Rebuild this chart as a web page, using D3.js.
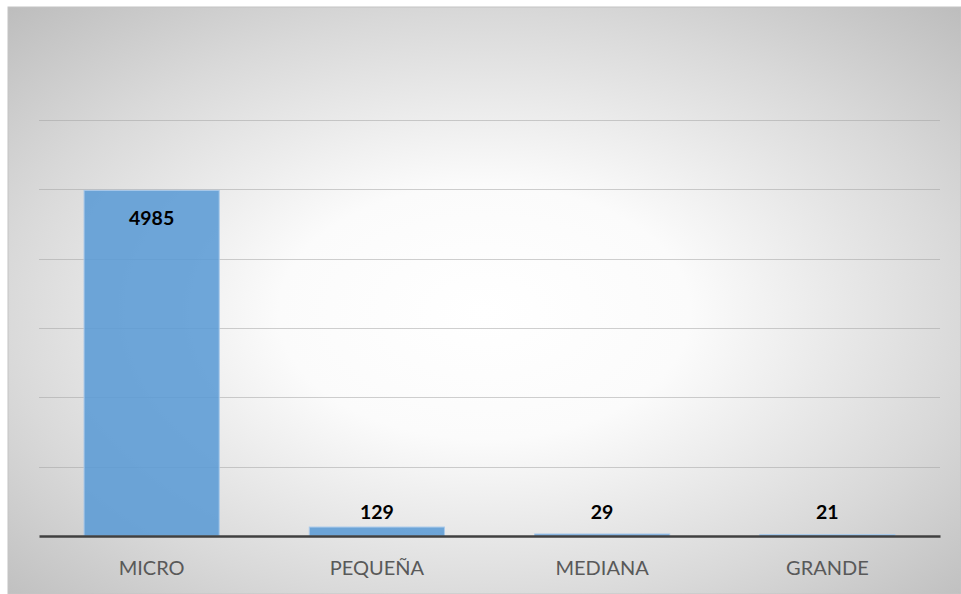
<!DOCTYPE html>
<html>
<head>
<meta charset="utf-8">
<script src="https://cdn.jsdelivr.net/npm/d3@7"></script>
<style>
  body { margin: 0; background: #ffffff; }
  svg { display: block; }
</style>
</head>
<body>
<div id="chart"></div>
<script>
// Data
const categories = ["MICRO", "PEQUEÑA", "MEDIANA", "GRANDE"];
const values = [4985, 129, 29, 21];
const gridTicks = [0, 1000, 2000, 3000, 4000, 5000, 6000];

const width = 961, height = 594;
const margin = { top: 120, right: 21, bottom: 58, left: 39 };

const svg = d3.select("#chart").append("svg")
  .attr("width", width)
  .attr("height", height);

// Radial background like the Excel chart area
const defs = svg.append("defs");
const grad = defs.append("radialGradient")
  .attr("id", "bg")
  .attr("cx", "50%").attr("cy", "52%").attr("r", "72%");
grad.append("stop").attr("offset", "0%").attr("stop-color", "#ffffff");
grad.append("stop").attr("offset", "30%").attr("stop-color", "#fbfbfb");
grad.append("stop").attr("offset", "70%").attr("stop-color", "#d9d9d9");
grad.append("stop").attr("offset", "100%").attr("stop-color", "#bdbdbd");

svg.append("rect")
  .attr("x", 8).attr("y", 7)
  .attr("width", width - 8).attr("height", height - 7)
  .attr("fill", "url(#bg)")
  .attr("stroke", "#c4c4c4")
  .attr("stroke-width", 1);

const x = d3.scaleBand()
  .domain(categories)
  .range([margin.left, width - margin.right])
  .paddingInner(0.4)
  .paddingOuter(0.2);

const y = d3.scaleLinear()
  .domain([0, 6000])
  .range([height - margin.bottom, margin.top]);

// gridlines
svg.append("g")
  .selectAll("line")
  .data(gridTicks.filter(d => d > 0))
  .enter().append("line")
  .attr("x1", margin.left)
  .attr("x2", width - margin.right)
  .attr("y1", d => Math.round(y(d)) + 0.5)
  .attr("y2", d => Math.round(y(d)) + 0.5)
  .attr("stroke", "#a0a0a0")
  .attr("stroke-opacity", 0.5)
  .attr("stroke-width", 1);

// bars
svg.append("g")
  .selectAll("rect")
  .data(values)
  .enter().append("rect")
  .attr("x", (d, i) => x(categories[i]))
  .attr("y", d => y(d))
  .attr("width", x.bandwidth())
  .attr("height", d => y(0) - y(d))
  .attr("fill", "#5b9bd5")
  .attr("fill-opacity", 0.88)
  .attr("stroke", "#a9c9ea")
  .attr("stroke-width", 1);

// baseline axis
const xAxis = svg.append("g")
  .attr("transform", `translate(0,${y(0)})`)
  .call(d3.axisBottom(x).tickSize(0).tickPadding(25));
xAxis.select(".domain")
  .attr("stroke", "#404040")
  .attr("stroke-width", 2.5);
xAxis.selectAll("text")
  .attr("fill", "#595959")
  .attr("font-family", "Lato, 'Open Sans', sans-serif")
  .attr("font-size", 20);

// value labels: inside the tall bar, above the short ones
svg.append("g")
  .selectAll("text")
  .data(values)
  .enter().append("text")
  .attr("x", (d, i) => x(categories[i]) + x.bandwidth() / 2)
  .attr("y", d => (y(0) - y(d) > 40) ? y(d) + 35 : y(0) - 17)
  .attr("text-anchor", "middle")
  .attr("font-family", "Lato, 'Open Sans', sans-serif")
  .attr("font-weight", "bold")
  .attr("font-size", 19.5)
  .attr("fill", "#000000")
  .text(d => d);
</script>
</body>
</html>
